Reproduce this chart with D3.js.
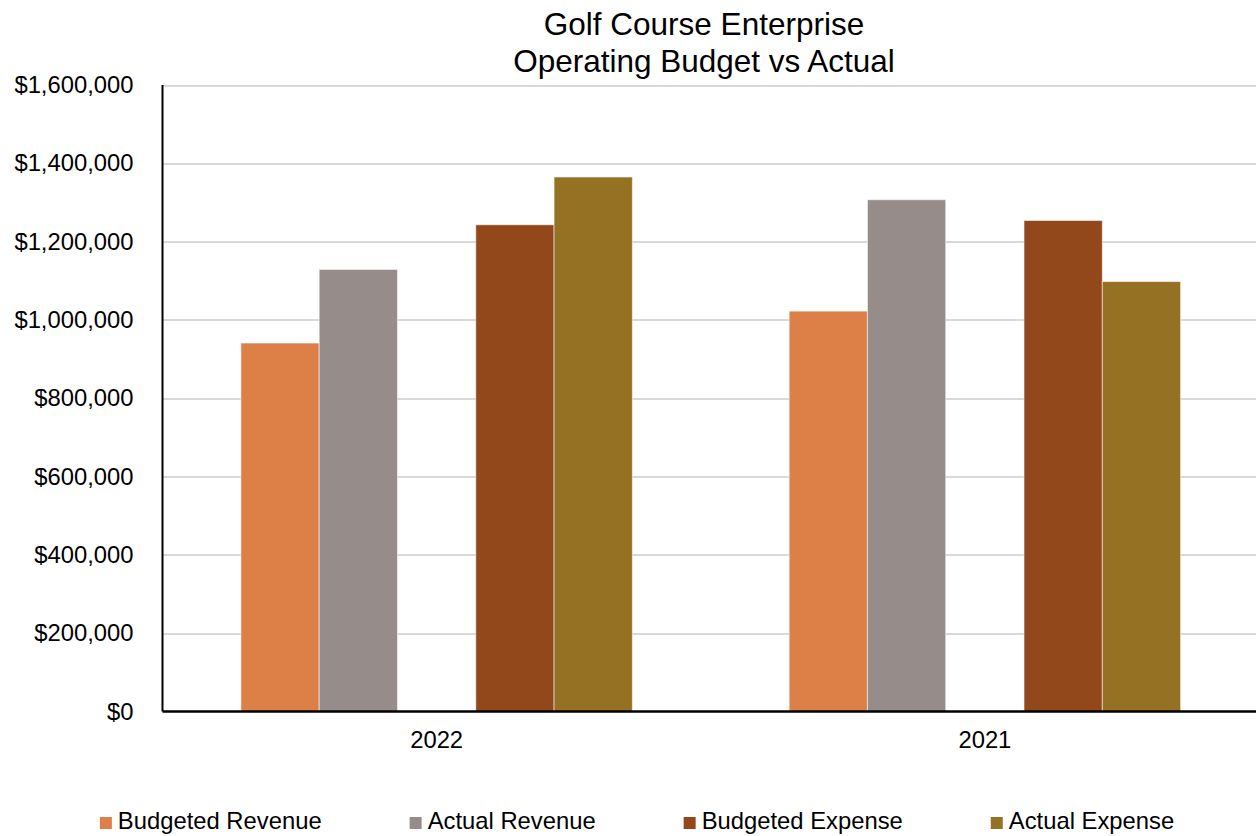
<!DOCTYPE html>
<meta charset="utf-8">
<style>
body { margin: 0; background: #fff; }
svg { font-family: "Liberation Sans", Arial, sans-serif; display: block; }
.grid line { stroke: #d9d9d9; stroke-width: 2px; shape-rendering: crispEdges; }
.grid path { display: none; }
.y.axis path, .y.axis line { display: none; }
.y.axis text, .x.axis text { font-size: 23.8px; fill: #000; }
.x.axis line { display: none; }
.x.axis path { stroke: #000; stroke-width: 2.5px; }
.legend text { font-size: 23.8px; fill: #000; }
.title { font-size: 31.5px; fill: #000; }
</style>
<body>
<script src="https://d3js.org/d3.v7.min.js"></script>
<script>

//
// Data
//

var years = ["2022", "2021"];
var seriesNames = ["Budgeted Revenue", "Actual Revenue", "Budgeted Expense", "Actual Expense"];
var budgetedRevenue = [941000, 1022500];
var actualRevenue = [1129000, 1307000];
var budgetedExpense = [1243000, 1254000];
var actualExpense = [1365000, 1098000];
// the source chart keeps an empty column between revenue and expense
var slots = ["Budgeted Revenue", "Actual Revenue", "(blank)", "Budgeted Expense", "Actual Expense"];
var yTicks = [0, 200000, 400000, 600000, 800000, 1000000, 1200000, 1400000, 1600000];
var titleLines = ["Golf Course Enterprise", "Operating Budget vs Actual"];

var colors = {
  "Budgeted Revenue": "#dd8047",
  "Actual Revenue": "#968c8a",
  "Budgeted Expense": "#93481b",
  "Actual Expense": "#957124"
};

var valuesBySeries = {
  "Budgeted Revenue": budgetedRevenue,
  "Actual Revenue": actualRevenue,
  "Budgeted Expense": budgetedExpense,
  "Actual Expense": actualExpense
};

//
// Layout
//

var W = 1256, H = 836;
var plot = {left: 162.5, right: 1259, top: 85, bottom: 711.5};

var svg = d3.select("body").append("svg")
    .attr("width", W)
    .attr("height", H);

var x0 = d3.scaleBand()
    .domain(years)
    .range([plot.left, plot.right])
    .paddingInner(0.286)
    .paddingOuter(0.143);

var x1 = d3.scaleBand()
    .domain(slots)
    .range([0, x0.bandwidth()]);

var y = d3.scaleLinear()
    .domain([0, 1600000])
    .range([plot.bottom, plot.top]);

// gridlines
svg.append("g")
    .attr("class", "grid")
    .attr("transform", "translate(" + plot.left + ",0)")
    .call(d3.axisLeft(y).tickValues(yTicks.slice(1)).tickSize(-(plot.right - plot.left)).tickFormat(""));

// y labels
svg.append("g")
    .attr("class", "y axis")
    .attr("transform", "translate(" + plot.left + ",0)")
    .call(d3.axisLeft(y).tickValues(yTicks).tickSize(0).tickPadding(29).tickFormat(d3.format("$,")));

// bars
var rows = [];
years.forEach(function(yr, i) {
  seriesNames.forEach(function(s) {
    rows.push({year: yr, series: s, value: valuesBySeries[s][i]});
  });
});

svg.append("g").selectAll("rect")
    .data(rows)
  .enter().append("rect")
    .attr("x", function(d) { return x0(d.year) + x1(d.series); })
    .attr("y", function(d) { return y(d.value); })
    .attr("width", x1.bandwidth())
    .attr("height", function(d) { return y(0) - y(d.value); })
    .attr("fill", function(d) { return colors[d.series]; })
    .attr("stroke", "rgba(255,255,255,0.55)")
    .attr("stroke-width", 1);

// y axis line
svg.append("line")
    .attr("x1", plot.left).attr("x2", plot.left)
    .attr("y1", plot.top).attr("y2", plot.bottom)
    .attr("stroke", "#000")
    .attr("stroke-width", 2);

// x axis
var xAxis = svg.append("g")
    .attr("class", "x axis")
    .attr("transform", "translate(0," + plot.bottom + ")")
    .call(d3.axisBottom(x0).tickSize(0).tickPadding(20).tickSizeOuter(0));
xAxis.select(".domain").attr("d", "M" + plot.left + ",0H" + plot.right);

// title
svg.append("text")
    .attr("class", "title")
    .attr("text-anchor", "middle")
    .selectAll("tspan")
    .data(titleLines)
  .enter().append("tspan")
    .attr("x", 704)
    .attr("y", function(d, i) { return 35 + i * 36.5; })
    .text(function(d) { return d; });

// legend
var legend = svg.append("g").attr("class", "legend");
var items = legend.selectAll("g")
    .data(seriesNames)
  .enter().append("g");

items.append("rect")
    .attr("width", 12)
    .attr("height", 12)
    .attr("y", -12)
    .attr("fill", function(d) { return colors[d]; });

items.append("text")
    .attr("x", 18)
    .attr("y", 0)
    .text(function(d) { return d; });

var gap = 88;
var widths = [];
items.each(function() { widths.push(this.getBBox().width); });
var total = d3.sum(widths) + gap * (widths.length - 1);
var cx = 637 - total / 2;
items.attr("transform", function(d, i) {
  var t = "translate(" + cx + ",829)";
  cx += widths[i] + gap;
  return t;
});

</script>
</body>
